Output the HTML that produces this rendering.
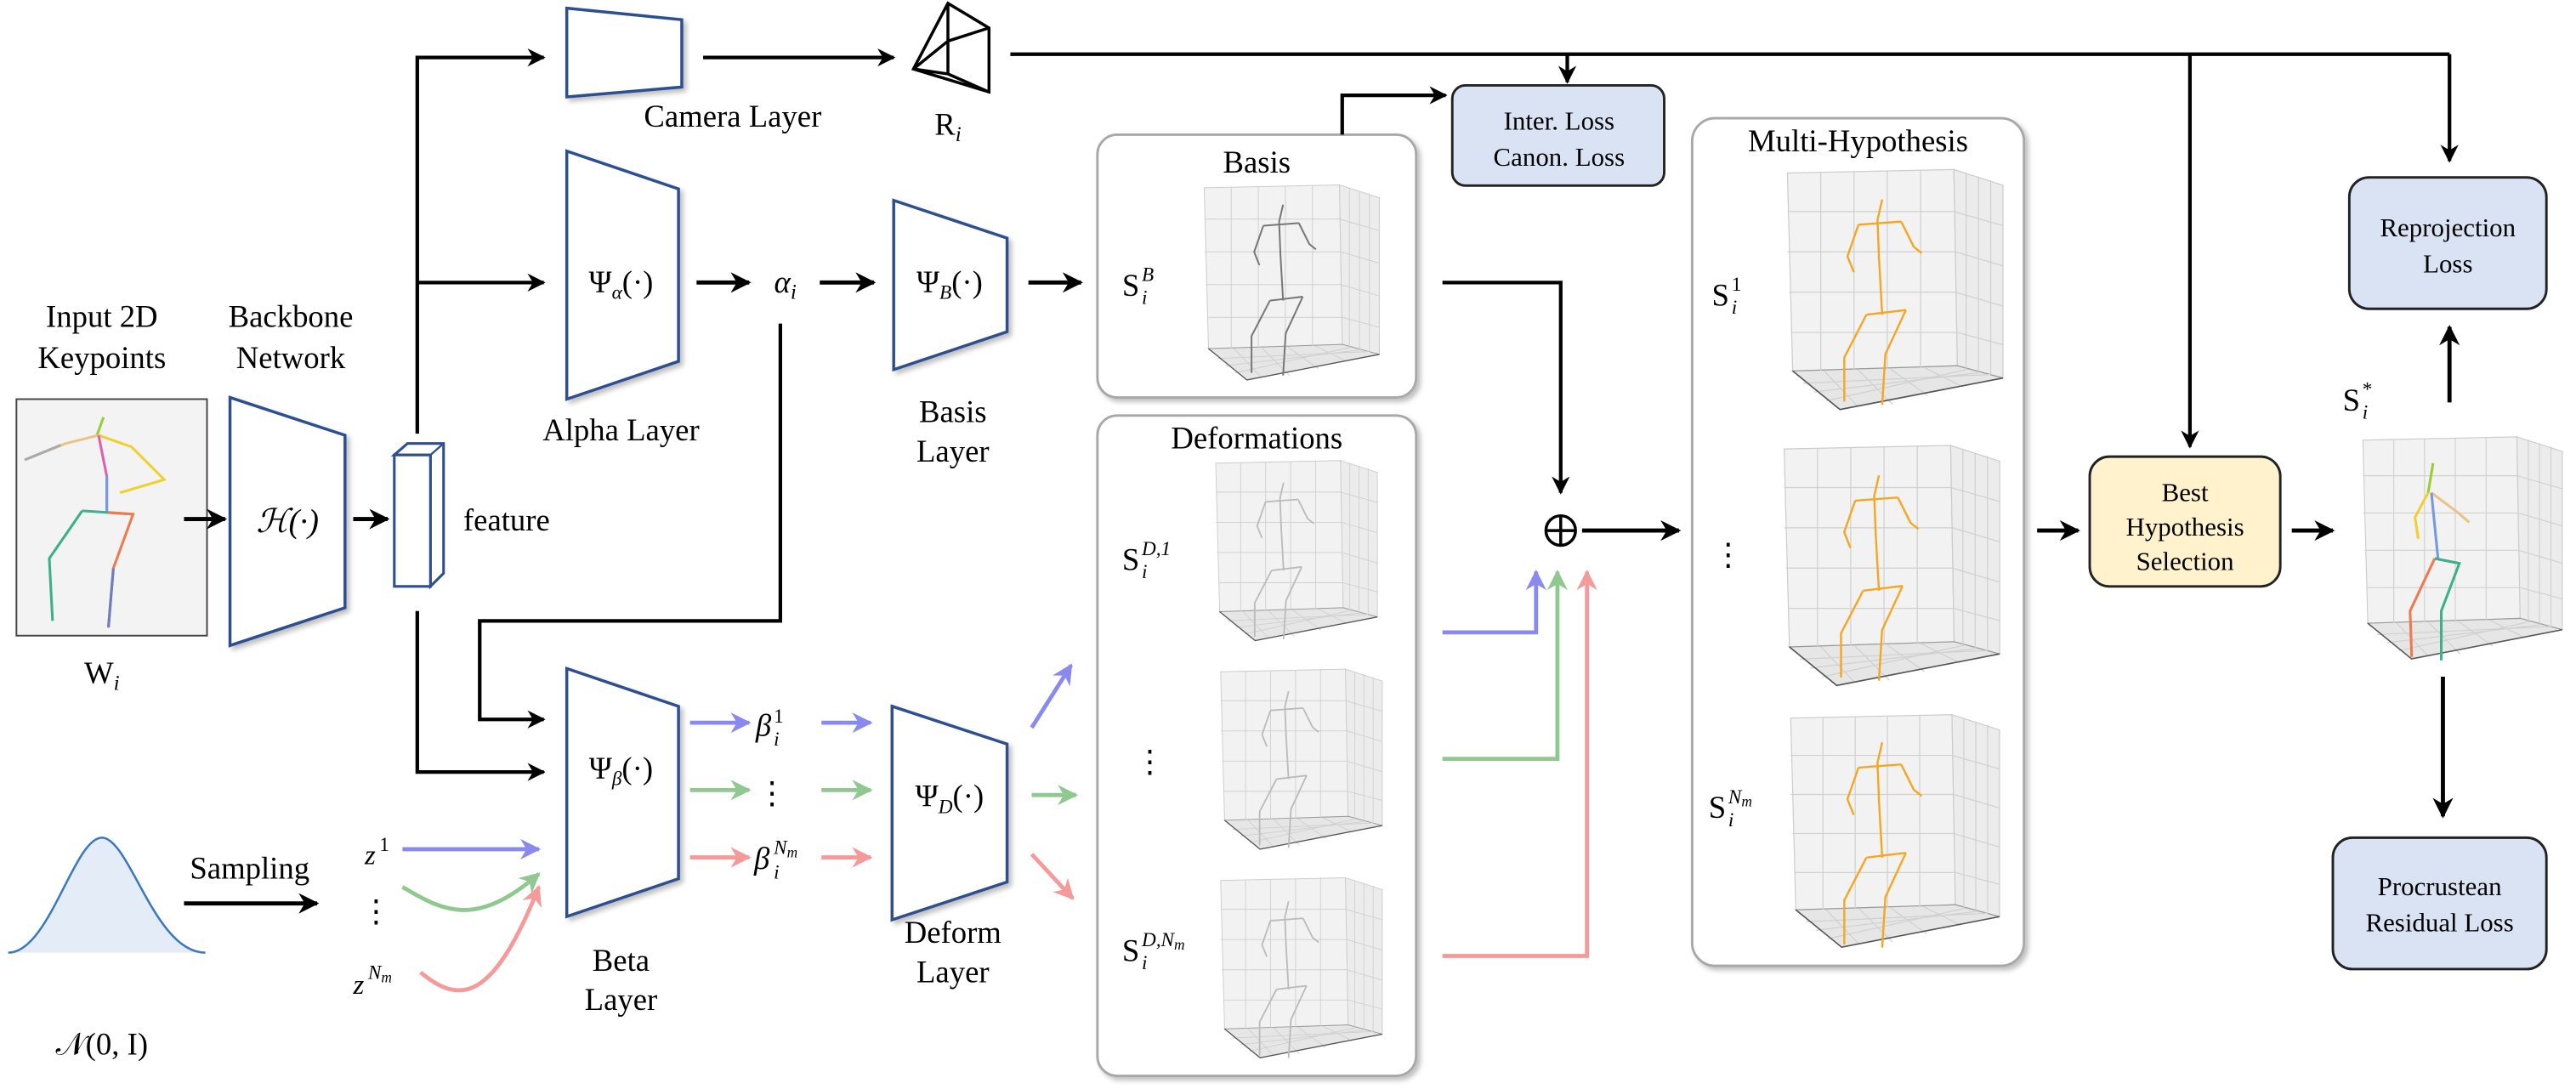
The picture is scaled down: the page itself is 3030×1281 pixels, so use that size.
<!DOCTYPE html>
<html><head><meta charset="utf-8"><style>
html,body{margin:0;padding:0;background:#fff;}
svg{display:block;font-family:"Liberation Serif","DejaVu Serif",serif;}
svg text{font-family:"Liberation Serif","DejaVu Serif",serif;fill:#000;}
</style></head><body>
<svg width="3030" height="1281" viewBox="0 0 1568 663" preserveAspectRatio="none" xmlns="http://www.w3.org/2000/svg" font-family="Liberation Serif, DejaVu Serif, serif">
<defs>
<marker id="ak" viewBox="0 0 10 10" refX="9" refY="5" markerWidth="5" markerHeight="5" orient="auto-start-reverse"><path d="M0,0 L10,5 L0,10 L3,5z" fill="#000"/></marker>
<marker id="ab" viewBox="0 0 10 10" refX="9" refY="5" markerWidth="5" markerHeight="5" orient="auto"><path d="M0,0 L10,5 L0,10 L3,5z" fill="#8a8aee"/></marker>
<marker id="ag" viewBox="0 0 10 10" refX="9" refY="5" markerWidth="5" markerHeight="5" orient="auto"><path d="M0,0 L10,5 L0,10 L3,5z" fill="#8fc98f"/></marker>
<marker id="ar" viewBox="0 0 10 10" refX="9" refY="5" markerWidth="5" markerHeight="5" orient="auto"><path d="M0,0 L10,5 L0,10 L3,5z" fill="#f59a9a"/></marker>
<filter id="sh" x="-10%" y="-10%" width="130%" height="130%"><feDropShadow dx="2" dy="2" stdDeviation="1.5" flood-color="#000" flood-opacity="0.25"/></filter>
<symbol id="grid" viewBox="0 0 130 150">
 <path d="M5,5 L100,3 L102,115 L8,118z" fill="#f2f2f2" stroke="#ccc" stroke-width="0.6"/>
 <path d="M100,3 L128,12 L128,122 L102,115z" fill="#ececec" stroke="#ccc" stroke-width="0.6"/>
 <path d="M8,118 L102,115 L128,122 L35,140z" fill="#e6e6e6" stroke="#999" stroke-width="0.6"/>
 <g stroke="#d0d0d0" stroke-width="0.6" fill="none">
  <path d="M24,5V118M43,4V117M62,4V117M81,3V116M5,27H101M5,50H101M6,73H101M7,96H102"/>
  <path d="M107,5V117M114,7V119M121,9V120M100,27L128,35M101,50L128,58M101,73L128,81M102,96L128,103"/>
  <path d="M27,135L108,117M20,130L114,119M14,125L121,120M26,118L45,138M45,117L65,137M64,117L85,132M83,116L105,127"/>
 </g>
 <path d="M8,118 L35,140 L128,122" fill="none" stroke="#555" stroke-width="0.8"/>
</symbol>
<symbol id="fig" viewBox="0 0 130 150">
 <g fill="none" stroke="currentColor" stroke-width="1.3" stroke-linejoin="round">
  <path d="M60,12 L57,25 L58,50 L60,85"/>
  <path d="M45,28 L72,26 M45,28 L38,48 L42,58 M72,26 L80,42 L85,46"/>
  <path d="M50,85 L75,82 M50,85 L36,112 L36,140 M75,82 L62,110 L60,142"/>
 </g>
</symbol>
</defs>

<polyline points="615,33 1491,33" fill="none" stroke="#000" stroke-width="2.2"/>
<line x1="954" y1="33" x2="954" y2="50" stroke="#000" stroke-width="2.2" marker-end="url(#ak)"/>
<line x1="1333" y1="33" x2="1333" y2="272" stroke="#000" stroke-width="2.2" marker-end="url(#ak)"/>
<line x1="1491" y1="33" x2="1491" y2="98" stroke="#000" stroke-width="2.2" marker-end="url(#ak)"/>

<text x="62" y="199" font-size="19" text-anchor="middle">Input 2D</text>
<text x="62" y="224" font-size="19" text-anchor="middle">Keypoints</text>
<text x="177" y="199" font-size="19" text-anchor="middle">Backbone</text>
<text x="177" y="224" font-size="19" text-anchor="middle">Network</text>
<rect x="10" y="243" width="116" height="144" fill="#f3f3f3" stroke="#444" stroke-width="1"/>
<g fill="none" stroke-width="1.6">
 <path d="M63,254 L59,265" stroke="#9acd32"/>
 <path d="M15,280 L40,270 L60,265" stroke="#e8c48a"/>
 <path d="M15,280 L37,271" stroke="#aaa"/>
 <path d="M60,265 L80,272 L100,292 L73,300" stroke="#f0d030"/>
 <path d="M60,265 L65,290 L65,312" stroke="#e060b0"/>
 <path d="M65,290 L65,312" stroke="#7799dd"/>
 <path d="M50,311 L80,313" stroke="#40b090"/>
 <path d="M66,312 L81,313 L69,346 L66,382" stroke="#f07a50"/>
 <path d="M50,311 L30,340 L32,378" stroke="#3cb08a"/>
 <path d="M69,346 L66,382" stroke="#6a7fc0"/>
</g>
<text x="62" y="416" font-size="19" text-anchor="middle">W<tspan font-style="italic" font-size="13" dy="4">i</tspan></text>
<line x1="112" y1="316" x2="137" y2="316" stroke="#000" stroke-width="2.5" marker-end="url(#ak)"/>
<path d="M140,242 L210,265 L210,370 L140,393z" fill="#fff" stroke="#2f4f8f" stroke-width="1.8" filter="url(#sh)"/>
<text x="175" y="324" font-size="20" text-anchor="middle" font-style="italic">ℋ(·)</text>
<line x1="215" y1="316" x2="236" y2="316" stroke="#000" stroke-width="2.5" marker-end="url(#ak)"/>
<path d="M240,277 L248,270 L270,270 L270,349 L262,357 L262,277z" fill="#fff" stroke="#2f4f8f" stroke-width="1.6"/>
<rect x="240" y="277" width="22" height="80" fill="#fff" stroke="#2f4f8f" stroke-width="1.6"/>
<line x1="262" y1="277" x2="270" y2="270" stroke="#2f4f8f" stroke-width="1.2"/>
<text x="282" y="323" font-size="19">feature</text>

<polyline points="254,264 254,35 331,35" fill="none" stroke="#000" stroke-width="2.2" marker-end="url(#ak)"/>
<line x1="254" y1="172" x2="331" y2="172" stroke="#000" stroke-width="2.2" marker-end="url(#ak)"/>
<polyline points="254,372 254,470 331,470" fill="none" stroke="#000" stroke-width="2.2" marker-end="url(#ak)"/>
<polyline points="475,197 475,378 292,378 292,438 331,438" fill="none" stroke="#000" stroke-width="2.2" marker-end="url(#ak)"/>

<path d="M345,5 L415,12 L415,53 L345,59z" fill="#fff" stroke="#2f4f8f" stroke-width="1.8" filter="url(#sh)"/>
<text x="446" y="77" font-size="19" text-anchor="middle">Camera Layer</text>
<line x1="428" y1="35" x2="544" y2="35" stroke="#000" stroke-width="2.2" marker-end="url(#ak)"/>
<g fill="none" stroke="#000" stroke-width="1.8">
 <path d="M577,2 L602,17 L602,56 L556,42z M577,2 L577,45 L602,56 M556,42 L577,45 M577,25 L602,17 M556,42 L577,25"/>
</g>
<text x="577" y="82" font-size="19" text-anchor="middle">R<tspan font-style="italic" font-size="13" dy="4">i</tspan></text>

<path d="M345,92 L413,115 L413,220 L345,243z" fill="#fff" stroke="#2f4f8f" stroke-width="1.8" filter="url(#sh)"/>
<text x="378" y="178" font-size="19" text-anchor="middle">Ψ<tspan font-style="italic" font-size="12" dy="4">α</tspan><tspan dy="-4">(·)</tspan></text>
<text x="378" y="268" font-size="19" text-anchor="middle">Alpha Layer</text>
<line x1="424" y1="172" x2="456" y2="172" stroke="#000" stroke-width="2.5" marker-end="url(#ak)"/>
<text x="478" y="178" font-size="19" text-anchor="middle" font-style="italic">α<tspan font-size="13" dy="4">i</tspan></text>
<line x1="499" y1="172" x2="532" y2="172" stroke="#000" stroke-width="2.5" marker-end="url(#ak)"/>
<path d="M544,122 L613,145 L613,202 L544,225z" fill="#fff" stroke="#2f4f8f" stroke-width="1.8" filter="url(#sh)"/>
<text x="578" y="178" font-size="19" text-anchor="middle">Ψ<tspan font-style="italic" font-size="12" dy="4">B</tspan><tspan dy="-4">(·)</tspan></text>
<text x="580" y="257" font-size="19" text-anchor="middle">Basis</text>
<text x="580" y="281" font-size="19" text-anchor="middle">Layer</text>
<line x1="626" y1="172" x2="658" y2="172" stroke="#000" stroke-width="2.5" marker-end="url(#ak)"/>

<path d="M345,407 L413,430 L413,535 L345,558z" fill="#fff" stroke="#2f4f8f" stroke-width="1.8" filter="url(#sh)"/>
<text x="378" y="474" font-size="19" text-anchor="middle">Ψ<tspan font-style="italic" font-size="12" dy="4">β</tspan><tspan dy="-4">(·)</tspan></text>
<text x="378" y="591" font-size="19" text-anchor="middle">Beta</text>
<text x="378" y="615" font-size="19" text-anchor="middle">Layer</text>
<line x1="420" y1="440" x2="456" y2="440" stroke="#8a8aee" stroke-width="2.5" marker-end="url(#ab)"/>
<line x1="420" y1="481" x2="456" y2="481" stroke="#8fc98f" stroke-width="2.5" marker-end="url(#ag)"/>
<line x1="420" y1="522" x2="456" y2="522" stroke="#f59a9a" stroke-width="2.5" marker-end="url(#ar)"/>
<text x="460" y="448" font-size="19" font-style="italic">β</text>
<text x="471" y="440" font-size="12">1</text>
<text x="471" y="454" font-size="12" font-style="italic">i</text>
<text x="470" y="489" font-size="19" text-anchor="middle">⋮</text>
<text x="459" y="529" font-size="19" font-style="italic">β</text>
<text x="471" y="520" font-size="12" font-style="italic">N<tspan font-size="9" dy="2">m</tspan></text>
<text x="471" y="535" font-size="12" font-style="italic">i</text>
<line x1="500" y1="440" x2="530" y2="440" stroke="#8a8aee" stroke-width="2.5" marker-end="url(#ab)"/>
<line x1="500" y1="481" x2="530" y2="481" stroke="#8fc98f" stroke-width="2.5" marker-end="url(#ag)"/>
<line x1="500" y1="522" x2="530" y2="522" stroke="#f59a9a" stroke-width="2.5" marker-end="url(#ar)"/>
<path d="M543,430 L613,453 L613,537 L543,560z" fill="#fff" stroke="#2f4f8f" stroke-width="1.8" filter="url(#sh)"/>
<text x="578" y="491" font-size="19" text-anchor="middle">Ψ<tspan font-style="italic" font-size="12" dy="4">D</tspan><tspan dy="-4">(·)</tspan></text>
<text x="580" y="574" font-size="19" text-anchor="middle">Deform</text>
<text x="580" y="598" font-size="19" text-anchor="middle">Layer</text>
<line x1="628" y1="443" x2="652" y2="405" stroke="#8a8aee" stroke-width="2.5" marker-end="url(#ab)"/>
<line x1="628" y1="484" x2="655" y2="484" stroke="#8fc98f" stroke-width="2.5" marker-end="url(#ag)"/>
<line x1="628" y1="520" x2="653" y2="547" stroke="#f59a9a" stroke-width="2.5" marker-end="url(#ar)"/>

<path d="M5,580 C30,580 45,510 62,510 C79,510 94,580 125,580z" fill="#e3ecf7" stroke="none"/>
<path d="M5,580 C30,580 45,510 62,510 C79,510 94,580 125,580" fill="none" stroke="#3a78c0" stroke-width="1.3"/>
<text x="62" y="642" font-size="19" text-anchor="middle">𝒩(0, I)</text>
<text x="152" y="535" font-size="19" text-anchor="middle">Sampling</text>
<line x1="112" y1="550" x2="193" y2="550" stroke="#000" stroke-width="2.5" marker-end="url(#ak)"/>
<text x="222" y="526" font-size="17" font-style="italic">z</text>
<text x="231" y="518" font-size="12">1</text>
<text x="229" y="561" font-size="19" text-anchor="middle">⋮</text>
<text x="215" y="605" font-size="17" font-style="italic">z</text>
<text x="224" y="596" font-size="12" font-style="italic">N<tspan font-size="9" dy="2">m</tspan></text>
<line x1="245" y1="517" x2="328" y2="517" stroke="#8a8aee" stroke-width="2.5" marker-end="url(#ab)"/>
<path d="M245,540 C270,555 290,565 328,532" fill="none" stroke="#8fc98f" stroke-width="2.5" marker-end="url(#ag)"/>
<path d="M256,592 C280,612 300,610 328,540" fill="none" stroke="#f59a9a" stroke-width="2.5" marker-end="url(#ar)"/>

<rect x="668" y="82" width="194" height="160" rx="12" fill="#fff" stroke="#a8a8a8" stroke-width="1.5" filter="url(#sh)"/>
<text x="765" y="105" font-size="19" text-anchor="middle">Basis</text>
<text x="683" y="180" font-size="19">S</text>
<text x="695" y="171" font-size="12" font-style="italic">B</text>
<text x="695" y="185" font-size="12" font-style="italic">i</text>
<use href="#grid" x="725" y="110" width="120" height="130"/>
<use href="#fig" x="730" y="115" width="110" height="120" color="#777"/>
<polyline points="817,82 817,58 880,58" fill="none" stroke="#000" stroke-width="2.2" marker-end="url(#ak)"/>
<rect x="884" y="52" width="129" height="61" rx="8" fill="#dae3f3" stroke="#222" stroke-width="1.5"/>
<text x="949" y="79" font-size="16" text-anchor="middle">Inter. Loss</text>
<text x="949" y="101" font-size="16" text-anchor="middle">Canon. Loss</text>
<polyline points="878,172 950,172 950,300" fill="none" stroke="#000" stroke-width="2.2" marker-end="url(#ak)"/>

<rect x="668" y="253" width="194" height="402" rx="12" fill="#fff" stroke="#a8a8a8" stroke-width="1.5" filter="url(#sh)"/>
<text x="765" y="273" font-size="19" text-anchor="middle">Deformations</text>
<use href="#grid" x="728" y="278" width="120" height="120"/>
<use href="#fig" x="735" y="285" width="100" height="110" color="#bbb"/>
<use href="#grid" x="731" y="405" width="120" height="120"/>
<use href="#fig" x="738" y="412" width="100" height="110" color="#bbb"/>
<use href="#grid" x="731" y="532" width="120" height="120"/>
<use href="#fig" x="738" y="540" width="100" height="110" color="#bbb"/>
<text x="683" y="347" font-size="19">S</text>
<text x="695" y="338" font-size="12" font-style="italic">D,1</text>
<text x="695" y="352" font-size="12" font-style="italic">i</text>
<text x="700" y="470" font-size="19" text-anchor="middle">⋮</text>
<text x="683" y="585" font-size="19">S</text>
<text x="695" y="576" font-size="12" font-style="italic">D,N<tspan font-size="9" dy="2">m</tspan></text>
<text x="695" y="590" font-size="12" font-style="italic">i</text>

<polyline points="878,385 935,385 935,348" fill="none" stroke="#8a8aee" stroke-width="2.5" marker-end="url(#ab)"/>
<polyline points="878,462 948,462 948,348" fill="none" stroke="#8fc98f" stroke-width="2.5" marker-end="url(#ag)"/>
<polyline points="878,582 966,582 966,348" fill="none" stroke="#f59a9a" stroke-width="2.5" marker-end="url(#ar)"/>
<circle cx="950" cy="323" r="9" fill="#fff" stroke="#000" stroke-width="1.8"/>
<path d="M941,323 H959 M950,314 V332" stroke="#000" stroke-width="1.8"/>
<line x1="963" y1="323" x2="1022" y2="323" stroke="#000" stroke-width="2.5" marker-end="url(#ak)"/>

<rect x="1030" y="72" width="202" height="516" rx="14" fill="#fff" stroke="#a8a8a8" stroke-width="1.5" filter="url(#sh)"/>
<text x="1131" y="92" font-size="19" text-anchor="middle">Multi-Hypothesis</text>
<use href="#grid" x="1082" y="100" width="140" height="160"/>
<use href="#fig" x="1088" y="108" width="125" height="148" color="#f5a623"/>
<use href="#grid" x="1080" y="268" width="140" height="160"/>
<use href="#fig" x="1086" y="276" width="125" height="148" color="#f5a623"/>
<use href="#grid" x="1082" y="432" width="140" height="155"/>
<use href="#fig" x="1088" y="440" width="125" height="145" color="#f5a623"/>
<text x="1042" y="186" font-size="19">S</text>
<text x="1054" y="177" font-size="12">1</text>
<text x="1054" y="191" font-size="12" font-style="italic">i</text>
<text x="1052" y="344" font-size="19" text-anchor="middle">⋮</text>
<text x="1040" y="498" font-size="19">S</text>
<text x="1052" y="489" font-size="12" font-style="italic">N<tspan font-size="9" dy="2">m</tspan></text>
<text x="1052" y="503" font-size="12" font-style="italic">i</text>

<line x1="1240" y1="323" x2="1265" y2="323" stroke="#000" stroke-width="2.5" marker-end="url(#ak)"/>
<rect x="1272" y="278" width="116" height="79" rx="12" fill="#fff2cc" stroke="#222" stroke-width="1.5"/>
<text x="1330" y="305" font-size="16" text-anchor="middle">Best</text>
<text x="1330" y="326" font-size="16" text-anchor="middle">Hypothesis</text>
<text x="1330" y="347" font-size="16" text-anchor="middle">Selection</text>
<line x1="1395" y1="323" x2="1420" y2="323" stroke="#000" stroke-width="2.5" marker-end="url(#ak)"/>

<text x="1426" y="250" font-size="19">S</text>
<text x="1438" y="241" font-size="12">*</text>
<text x="1438" y="255" font-size="12" font-style="italic">i</text>
<use href="#grid" x="1430" y="263" width="135" height="148"/>
<g fill="none" stroke-width="1.6">
 <path d="M1481,282 L1478,300" stroke="#9acd32"/>
 <path d="M1478,300 L1470,315 L1472,328" stroke="#f0d030"/>
 <path d="M1480,300 L1496,312 L1503,318" stroke="#e8c48a"/>
 <path d="M1480,300 L1484,340" stroke="#7799dd"/>
 <path d="M1482,340 L1467,372 L1468,400" stroke="#f07a50"/>
 <path d="M1482,340 L1497,343 L1486,372 L1486,402" stroke="#3cb08a"/>
</g>
<line x1="1491" y1="245" x2="1491" y2="199" stroke="#000" stroke-width="2.5" marker-end="url(#ak)"/>
<rect x="1430" y="108" width="120" height="80" rx="12" fill="#dae3f3" stroke="#222" stroke-width="1.5"/>
<text x="1490" y="144" font-size="16" text-anchor="middle">Reprojection</text>
<text x="1490" y="166" font-size="16" text-anchor="middle">Loss</text>
<line x1="1487" y1="412" x2="1487" y2="497" stroke="#000" stroke-width="2.5" marker-end="url(#ak)"/>
<rect x="1420" y="510" width="130" height="80" rx="12" fill="#dae3f3" stroke="#222" stroke-width="1.5"/>
<text x="1485" y="545" font-size="16" text-anchor="middle">Procrustean</text>
<text x="1485" y="567" font-size="16" text-anchor="middle">Residual Loss</text>
</svg>
</body></html>
